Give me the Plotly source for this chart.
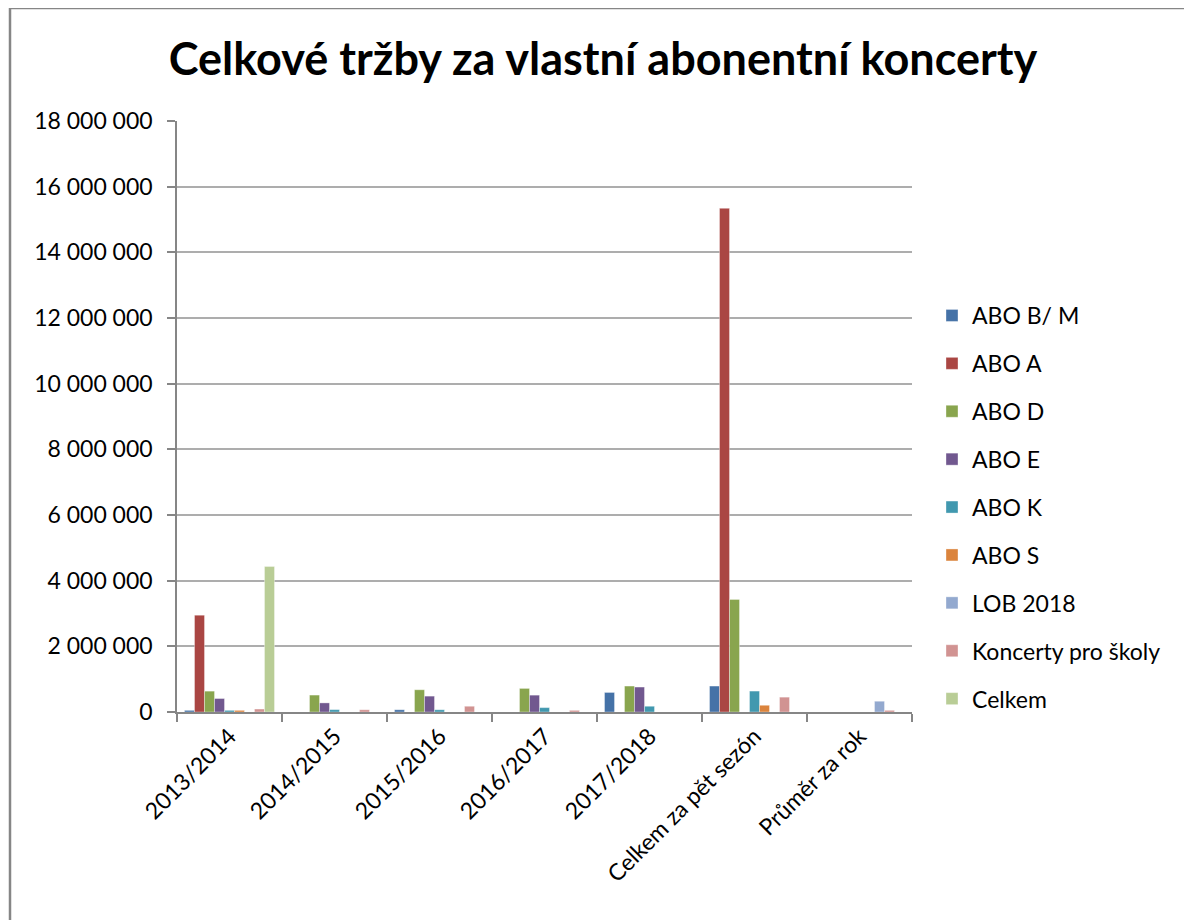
import plotly.graph_objects as go

categories = ["2013/2014", "2014/2015", "2015/2016", "2016/2017", "2017/2018",
              "Celkem za pět sezón", "Průměr za rok"]

abo_bm = [50000, 0, 68000, 0, 595000, 790000, 0]
abo_a = [2950000, 0, 0, 0, 0, 15340000, 0]
abo_d = [635000, 515000, 677000, 718000, 790000, 3430000, 0]
abo_e = [410000, 277000, 483000, 513000, 760000, 0, 0]
abo_k = [50000, 72000, 68000, 133000, 175000, 637000, 0]
abo_s = [50000, 0, 0, 0, 0, 205000, 0]
lob_2018 = [0, 0, 0, 0, 0, 0, 328000]
koncerty_skoly = [90000, 68000, 175000, 50000, 0, 452000, 50000]
celkem = [4430000, 0, 0, 0, 0, 0, 0]

series_names = ["ABO B/ M", "ABO A", "ABO D", "ABO E", "ABO K", "ABO S",
                "LOB 2018", "Koncerty pro školy", "Celkem"]
series_values = [abo_bm, abo_a, abo_d, abo_e, abo_k, abo_s, lob_2018,
                 koncerty_skoly, celkem]
colors = ["#4572A7", "#AA4643", "#89A54E", "#71588F", "#4198AF", "#DB843D",
          "#93A9CF", "#D19392", "#B9CD96"]

FONT = "Lato, 'Open Sans', sans-serif"

fig = go.Figure()
for i, (name, vals, col) in enumerate(zip(series_names, series_values, colors)):
    fig.add_trace(go.Bar(
        name=name, x=categories, y=vals,
        marker=dict(color=col, line=dict(color="rgba(255,255,255,0.35)", width=1)),
        legendgroup=f"g{i}",
    ))

# page offset (browser body margin) compensation
OFF = 7
W, H = 1192, 920
L, T = 176 - OFF, 120 - OFF
pw, ph = 735, 591
R = W - L - pw
B = H - T - ph

def px_x(x):
    return (x - OFF - L) / pw

def px_y(y):
    return (T + ph - (y - OFF)) / ph

border = dict(color="#868686", width=2.5)

fig.update_layout(
    width=W, height=H,
    margin=dict(l=L, r=R, t=T, b=B, autoexpand=False),
    paper_bgcolor="white", plot_bgcolor="white",
    barmode="group", bargap=0.143, bargroupgap=0,
    separators=". ",
    font=dict(family=FONT, size=23, color="black"),
    title=dict(
        text="<b>Celkové tržby za vlastní abonentní koncerty</b>",
        font=dict(family=FONT, size=45, color="black"),
        x=(602 - OFF) / W, xanchor="center", xref="container",
        y=1 - (58 - OFF) / H, yanchor="middle", yref="container",
    ),
    showlegend=True,
    legend=dict(
        x=px_x(931), xanchor="left", y=px_y(293), yanchor="top",
        font=dict(family=FONT, size=23, color="black"),
        traceorder="grouped", tracegroupgap=15,
        bgcolor="rgba(0,0,0,0)",
    ),
    xaxis=dict(
        type="category",
        showline=True, linecolor="#868686", linewidth=1.5,
        ticks="outside", ticklen=8, tickcolor="#868686", tickwidth=1.5,
        tickson="boundaries",
        tickangle=-45,
        tickfont=dict(family=FONT, size=23, color="black"),
        showgrid=False,
    ),
    yaxis=dict(
        range=[0, 18000000], dtick=2000000, tick0=0,
        tickformat=",d",
        showline=True, linecolor="#868686", linewidth=1.5,
        ticks="outside", ticklen=8, tickcolor="#868686", tickwidth=1.5,
        showgrid=True, gridcolor="#ADADAD", gridwidth=1.5,
        tickfont=dict(family=FONT, size=23, color="black"),
        ticklabelstandoff=10,
        zeroline=False,
    ),
    shapes=[
        dict(type="line", xref="paper", yref="paper",
             x0=px_x(8), x1=px_x(1300), y0=px_y(7), y1=px_y(7),
             line=border, layer="below"),
        dict(type="line", xref="paper", yref="paper",
             x0=px_x(9), x1=px_x(9), y0=px_y(6), y1=px_y(1000),
             line=border, layer="below"),
    ],
)

fig.write_html("out.html")
